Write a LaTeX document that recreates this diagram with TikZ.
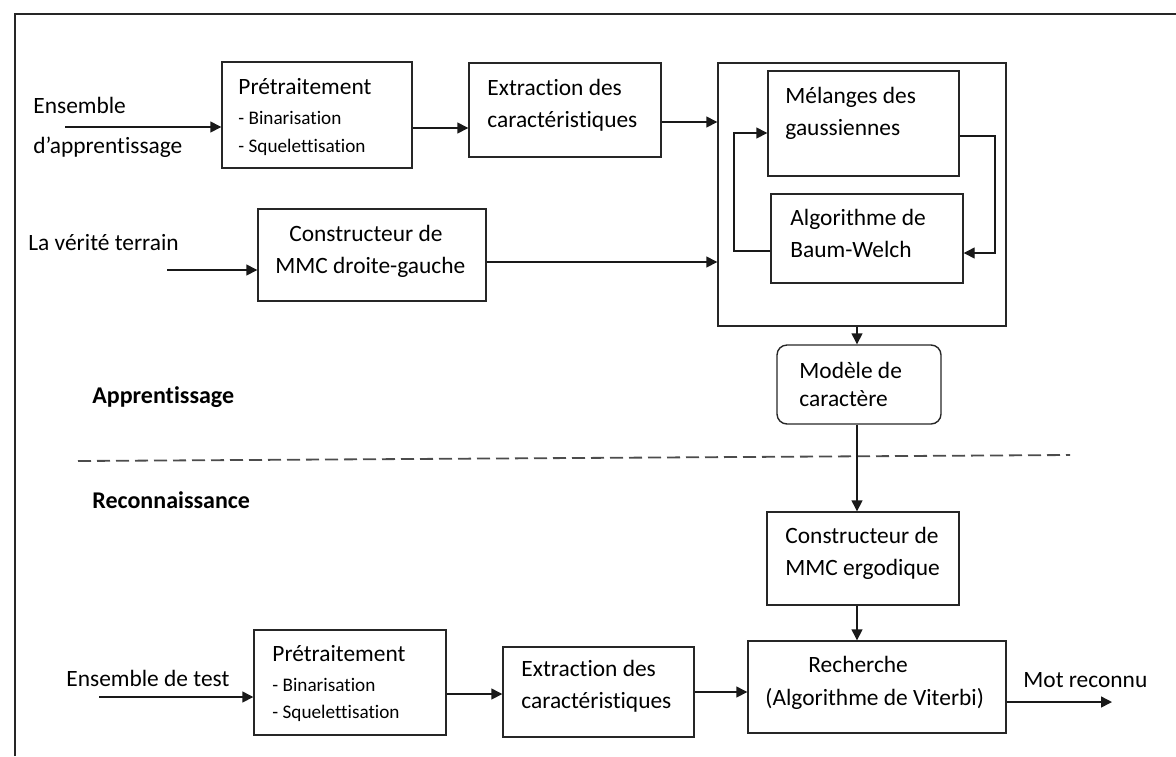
\documentclass[tikz,border=0pt]{standalone}
\usepackage{fontspec}
\setmainfont{Carlito}[Ligatures=NoCommon]
\usetikzlibrary{arrows.meta}
\begin{document}
\begin{tikzpicture}[x=0.5pt,y=-0.5pt,
  box/.style={draw=black!85, line width=0.7pt, inner sep=0pt},
  arr/.style={draw=black!90, line width=0.7pt, -{Triangle[length=5.5pt,width=5.5pt]}},
  txt/.style={inner sep=0pt, anchor=base west, font=\fontsize{11.7}{13}\selectfont},
  sml/.style={inner sep=0pt, anchor=base west, font=\fontsize{9.6}{11}\selectfont},
  bld/.style={inner sep=0pt, anchor=base west, font=\fontsize{12}{13}\selectfont\bfseries}]
\useasboundingbox (0,0) rectangle (1176,756);
% outer frame
\draw[line width=1pt, draw=black!85] (15,756) -- (15,14) -- (1176,14);

% boxes
\node[box, minimum width=95pt, minimum height=53pt] (pre1) at (317,115) {};
\node[box, minimum width=96pt, minimum height=47pt] (ext1) at (565,110) {};
\node[box, minimum width=144pt, minimum height=131.5pt] (big) at (862,194.5) {};
\node[box, minimum width=95.5pt, minimum height=52.5pt] (mel) at (863.5,123.5) {};
\node[box, minimum width=96pt, minimum height=44.5pt] (bw) at (867,238.5) {};
\node[box, minimum width=114pt, minimum height=46pt] (mmc1) at (372,255) {};
\node[box, rounded corners=5pt, minimum width=82pt, minimum height=39.5pt] (model) at (859,384.5) {};
\node[box, minimum width=96pt, minimum height=46.5pt] (erg) at (863,558.5) {};
\node[box, minimum width=96pt, minimum height=52.5pt] (pre2) at (350,682.5) {};
\node[box, minimum width=95.5pt, minimum height=45pt] (ext2) at (598.5,692) {};
\node[box, minimum width=129pt, minimum height=46pt] (rech) at (877,687) {};

% texts
\node[txt] (t_ens1) at (33,113) {Ensemble};
\node[txt] (t_ens2) at (33,153) {d’apprentissage};
\node[txt] (t_pre1) at (238,94) {Prétraitement};
\node[sml] (t_bin1) at (238,124) {- Binarisation};
\node[sml] (t_sq1) at (238,152) {- Squelettisation};
\node[txt] (t_ext1a) at (487,95) {Extraction des};
\node[txt] (t_ext1b) at (487,127) {caractéristiques};
\node[txt] (t_mel1) at (785,103) {Mélanges des};
\node[txt] (t_mel2) at (785,135) {gaussiennes};
\node[txt] (t_bw1) at (790,225) {Algorithme de};
\node[txt] (t_bw2) at (790,257) {Baum-Welch};
\node[txt] (t_ver) at (28,250) {La vérité terrain};
\node[txt] (t_mmc1a) at (289,241) {Constructeur de};
\node[txt] (t_mmc1b) at (275,273) {MMC droite-gauche};
\node[bld] (t_app) at (92,403) {Apprentissage};
\node[bld] (t_rec) at (92,508) {Reconnaissance};
\node[txt] (t_mod1) at (799,378) {Modèle de};
\node[txt] (t_mod2) at (799,406) {caractère};
\node[txt] (t_erg1) at (785,543) {Constructeur de};
\node[txt] (t_erg2) at (785,575) {MMC ergodique};
\node[txt] (t_test) at (66,686) {Ensemble de test};
\node[txt] (t_pre2) at (272,661) {Prétraitement};
\node[sml] (t_bin2) at (272,691) {- Binarisation};
\node[sml] (t_sq2) at (272,718) {- Squelettisation};
\node[txt] (t_ext2a) at (521,676) {Extraction des};
\node[txt] (t_ext2b) at (521,708) {caractéristiques};
\node[txt] (t_rch1) at (808,672) {Recherche};
\node[txt] (t_rch2) at (765,705) {(Algorithme de Viterbi)};
\node[txt] (t_mot) at (1023,687) {Mot reconnu};

% dashed separator
\coordinate (dl) at (78,461);
\coordinate (dr) at (1070,455);
\draw[draw=black!70, line width=0.9pt, dash pattern=on 6.5pt off 3pt] (dl) -- (dr);

% coordinates for connectors
\coordinate (in1) at (65,127);
\coordinate (c12) at (0,128);
\coordinate (c1b) at (0,122);
\coordinate (in2) at (167,270);
\coordinate (c2b) at (0,262);
\coordinate (vx) at (857,0);
\coordinate (lr1) at (995,136);
\coordinate (lr2) at (995,253);
\coordinate (ll1) at (734,251);
\coordinate (ll2) at (734,133);
\coordinate (in3) at (99,697);
\coordinate (c23) at (0,694);
\coordinate (c3r) at (0,692);
\coordinate (out) at (1112,702);

% connectors
\draw[arr] (in1) -- (in1 -| pre1.west);
\draw[arr] (pre1.east |- c12) -- (ext1.west |- c12);
\draw[arr] (ext1.east |- c1b) -- (big.west |- c1b);
\draw[arr] (in2) -- (in2 -| mmc1.west);
\draw[arr] (mmc1.east |- c2b) -- (big.west |- c2b);
\draw[arr] (mel.east |- lr1) -- (lr1) -- (lr2) -- (bw.east |- lr2);
\draw[arr] (bw.west |- ll1) -- (ll1) -- (ll2) -- (mel.west |- ll2);
\draw[arr] (vx |- big.south) -- (vx |- model.north);
\draw[arr] (vx |- model.south) -- (vx |- erg.north);
\draw[arr] (vx |- erg.south) -- (vx |- rech.north);
\draw[arr] (in3) -- (in3 -| pre2.west);
\draw[arr] (pre2.east |- c23) -- (ext2.west |- c23);
\draw[arr] (ext2.east |- c3r) -- (rech.west |- c3r);
\draw[arr] (rech.east |- out) -- (out);
\end{tikzpicture}
\end{document}
